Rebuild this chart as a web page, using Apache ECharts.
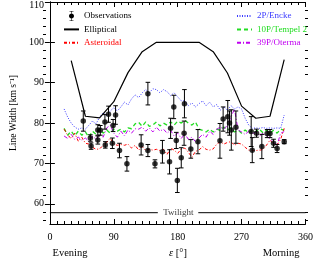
<!DOCTYPE html>
<html><head><meta charset="utf-8">
<script src="https://cdn.jsdelivr.net/npm/echarts@6/dist/echarts.min.js"></script>
<style>html,body{margin:0;padding:0;background:#fff}#c{width:316px;height:269px}</style>
</head><body><div id="c"></div>
<script>
// ---- data ----
const obsEps = [47,57,58,67.5,67.5,71,77.5,78,82.5,88,89,92.5,98,108.5,128.5,138,138,148,158.5,168.5,170,174.5,178,179.5,185,189,189.5,198.5,208.5,239.5,244,250.5,253,255.5,262,283.5,285,291,298.5,306,310,315,320,330];
const obsVal = [80.5,76.3,74.3,78.3,75.8,78.2,80.3,74.6,82.2,75.0,79.4,82.0,73.2,69.9,74.6,87.3,73.2,69.9,72.9,70.4,78.7,84.0,75.7,65.8,71.4,77.5,84.8,73.6,75.4,75.6,81.0,81.6,80.0,78.3,79.0,77.9,73.3,77.5,74.2,77.4,77.4,75.0,73.7,75.4];
const obsErr = [2.5,0.8,0.8,1.3,1.0,1.2,1.8,0.8,2.0,1.3,1.5,2.3,1.8,1.8,2.5,2.8,1.5,1.0,2.8,3.0,2.5,2.9,2.0,3.0,2.5,3.0,3.5,2.3,3.0,4.3,3.0,4.0,3.0,5.0,4.0,3.7,3.1,1.0,3.0,1.0,1.0,1.0,1.0,0.5];

const ellEps = [30,50,70,90,110,130,150,170,190,210,230,250,270,290,310,330];
const ellVal = [95.5,81.7,81.3,85.3,92.5,97.7,100,100,100,100,97.7,92.4,84.2,81.2,81.7,95.7];

const modelEps = [20,25,30,35,40,45,50,55,60,65,70,75,80,85,90,95,100,105,110,115,120,125,130,135,140,145,150,155,160,165,170,175,180,185,190,195,200,205,210,215,220,225,230,235,240,245,250,255,260,265,270,275,280,285,290,295,300,305,310,315,320,325,330];
const enckeVal = [83.5,81.5,80,79,78.5,78.8,78.5,79.5,80.5,79.8,81.5,82.5,81.8,83,83.8,83,84,85.2,84.5,86,87,86.3,87.5,88.3,87.5,88.5,88.3,87.5,88.3,87.8,86.8,87.5,86.5,85.5,85.5,84.3,85,84,84.8,85.5,84.3,85.2,84,84.6,83.2,84,83.2,84.3,83.5,84,83.5,81.2,79.5,78.7,78.8,78.7,78.9,78.7,78.8,78.7,78.8,78.7,82];
const tempelVal = [78.7,77,78,76.8,78,77,77.8,76.5,78,77.2,78.5,77.5,78.3,77.5,78.5,78,78.5,77.8,78.8,78.6,79.8,80.2,79.2,80.3,79.2,79.5,80.3,79.3,80,79.5,80.3,79.5,80.5,80,80.7,80,79.5,80.3,78.5,78.2,77.8,78.5,77.8,78.5,78.2,79,78.3,78.8,77.8,78.3,77.5,78.3,77.5,78.3,77.8,78.5,77.6,78.3,77.5,78.2,77.5,78.5,78.2];
const otermaVal = [76.8,76.2,77.2,76,76.5,75.8,76.3,75.5,76.8,76,77.2,76.5,78.8,79.5,77.5,76.5,78,76.8,78.3,77.5,78.6,78.5,79,78,78.8,77.8,79,78,78.5,77.5,78.2,76.8,77.5,76.2,77.3,76,76.5,75.4,76.3,77.2,76.5,78,77.2,78.5,79,78.5,79.5,81.5,83.5,78.3,77.8,77.2,78,77.3,77.8,76.8,77.5,76.8,76.2,75.2,74.5,77.5,77.9];
const asteroidVal = [78.5,77,76.2,77.5,75.5,76.5,75,74.8,74,73.5,73.6,74.5,75.2,76.3,74.8,74.5,74.7,74.5,74.8,73.8,74.5,73.3,74.2,73.2,73.5,73.3,73.5,73.2,73.5,72.2,73.8,73.3,72.5,73.6,73.8,72.8,71.5,73,73.3,74.2,73.5,73.3,73.6,74.8,75.4,74.8,75.2,75.4,74.5,75,74.8,74,73.3,73.3,73.2,73.3,73.4,74.5,75.8,74.8,74.6,76,78.7];

const twilightLevel = 57.8;
const twilightSegEps = [0, 152, 209, 360];
const twilightLabelEps = 181;

const yMajorTicks = [60,70,80,90,100,110];
const yMinorTicks = [56,58,62,64,66,68,72,74,76,78,82,84,86,88,92,94,96,98,102,104,106,108];

// ---- chart ----
const FONT = 'Liberation Serif, Times New Roman, serif';
const zip = (a, b) => a.map((v, i) => [v, b[i]]);
const errData = obsEps.map((e, i) => [e, obsVal[i] - obsErr[i], obsVal[i] + obsErr[i]]);
const tw = [[twilightSegEps[0], twilightLevel], [twilightSegEps[1], twilightLevel], ['-', '-'], [twilightSegEps[2], twilightLevel], [twilightSegEps[3], twilightLevel]];

const gridRect = {left: 43, top: 2, width: 265, height: 222};
const blk = {color: '#000', width: 1};

const xCommon = {
  type: 'value', min: 0, max: 360, interval: 90,
  axisLine: {show: true, lineStyle: blk},
  axisTick: {show: true, inside: true, length: 5, lineStyle: blk},
  minorTick: {show: true, splitNumber: 9, length: 3, lineStyle: blk},
  splitLine: {show: false}
};

const COL = {encke: '#3c3cff', tempel: '#22dd22', oterma: '#c000f0', aster: '#ff0000'};

const obsIcon = 'path://M1,0H5V0.6H3.3V9.4H5V10H1V9.4H2.7V0.6H1Z M3,2.5C4.38,2.5 5.5,3.62 5.5,5C5.5,6.38 4.38,7.5 3,7.5C1.62,7.5 0.5,6.38 0.5,5C0.5,3.62 1.62,2.5 3,2.5Z';

const legendCommon = {
  orient: 'vertical', top: 6, itemWidth: 15, itemHeight: 10, itemGap: 3.4,
  selectedMode: false,
  itemStyle: {opacity: 0},
  textStyle: {fontFamily: FONT, fontSize: 9, color: '#000', lineHeight: 10}
};

const option = {
  animation: false,
  backgroundColor: '#fff',
  grid: [Object.assign({}, gridRect), Object.assign({}, gridRect)],
  xAxis: [
    Object.assign({}, xCommon, {gridIndex: 0, position: 'bottom',
      axisLabel: {show: true, color: '#000', fontFamily: FONT, fontSize: 10, margin: 8}}),
    Object.assign({}, xCommon, {gridIndex: 0, position: 'top', axisLabel: {show: false}}),
    {type: 'value', gridIndex: 1, min: 0, max: 360, show: false}
  ],
  yAxis: [
    {type: 'value', gridIndex: 0, min: 55, max: 110, position: 'left',
      name: 'Line Width [km s\u207B\u00B9]', nameLocation: 'middle', nameGap: 27,
      nameTextStyle: {fontFamily: FONT, fontSize: 9.5, color: '#000'},
      axisLine: {show: true, lineStyle: blk},
      axisTick: {show: true, inside: true, length: 5, lineStyle: blk, customValues: yMajorTicks},
      axisLabel: {show: true, customValues: yMajorTicks, color: '#000', fontFamily: FONT, fontSize: 10, margin: 6,
        formatter: v => (v === 110 ? '{t|110}' : String(v)),
        rich: {t: {padding: [6, 0, 0, 0], fontFamily: FONT, fontSize: 10, color: '#000'}}},
      splitLine: {show: false}},
    {type: 'value', gridIndex: 0, min: 55, max: 110, position: 'right',
      axisLine: {show: true, lineStyle: blk},
      axisTick: {show: true, inside: true, length: 5, lineStyle: blk, customValues: yMajorTicks},
      axisLabel: {show: false}, splitLine: {show: false}},
    {type: 'value', gridIndex: 1, min: 55, max: 110, position: 'left',
      axisLine: {show: false},
      axisTick: {show: true, inside: true, length: 3, lineStyle: blk, customValues: yMinorTicks},
      axisLabel: {show: false}, splitLine: {show: false}},
    {type: 'value', gridIndex: 1, min: 55, max: 110, position: 'right',
      axisLine: {show: false},
      axisTick: {show: true, inside: true, length: 3, lineStyle: blk, customValues: yMinorTicks},
      axisLabel: {show: false}, splitLine: {show: false}}
  ],
  legend: [
    Object.assign({}, legendCommon, {left: 58, data: [
      {name: 'Observations', icon: obsIcon, itemStyle: {opacity: 1, color: '#000'}},
      {name: 'Elliptical'},
      {name: 'Asteroidal', textStyle: {color: COL.aster}}
    ]}),
    Object.assign({}, legendCommon, {left: 231, data: [
      {name: '2P/Encke', textStyle: {color: COL.encke}},
      {name: '10P/Tempel 2', textStyle: {color: COL.tempel}},
      {name: '39P/Oterma', textStyle: {color: COL.oterma}}
    ]})
  ],
  graphic: [
    {type: 'text', x: 70, y: 253, style: {text: 'Evening', fontFamily: FONT, fontSize: 10.5, fill: '#000', align: 'center', verticalAlign: 'middle'}},
    {type: 'text', x: 178, y: 253, style: {text: '{i|\u03B5} [\u00B0]', fontFamily: FONT, fontSize: 10.5, fill: '#000', align: 'center', verticalAlign: 'middle',
      rich: {i: {fontStyle: 'italic', fontFamily: FONT, fontSize: 10.5, fill: '#000'}}}},
    {type: 'text', x: 281, y: 253, style: {text: 'Morning', fontFamily: FONT, fontSize: 10.5, fill: '#000', align: 'center', verticalAlign: 'middle'}}
  ],
  series: [
    {name: 'Elliptical', type: 'line', xAxisIndex: 0, yAxisIndex: 0, data: zip(ellEps, ellVal),
      symbol: 'none', lineStyle: {color: '#000', width: 1.2}, itemStyle: {color: '#000'}, z: 3},
    {name: '2P/Encke', type: 'line', data: zip(modelEps, enckeVal), symbol: 'none',
      lineStyle: {color: COL.encke, width: 1, type: [1, 1.5]}, itemStyle: {color: COL.encke}, z: 2},
    {name: '10P/Tempel 2', type: 'line', data: zip(modelEps, tempelVal), symbol: 'none',
      lineStyle: {color: COL.tempel, width: 1.3, type: [4, 3]}, itemStyle: {color: COL.tempel}, z: 2},
    {name: '39P/Oterma', type: 'line', data: zip(modelEps, otermaVal), symbol: 'none',
      lineStyle: {color: COL.oterma, width: 1, type: [4, 2, 1, 2]}, itemStyle: {color: COL.oterma}, z: 2},
    {name: 'Asteroidal', type: 'line', data: zip(modelEps, asteroidVal), symbol: 'none',
      lineStyle: {color: COL.aster, width: 1, type: [3, 2, 1, 2]}, itemStyle: {color: COL.aster}, z: 2},
    {name: 'twilight', type: 'line', data: tw, symbol: 'none', connectNulls: false,
      lineStyle: {color: '#000', width: 1}, z: 2},
    {name: 'twilightLabel', type: 'scatter', data: [[twilightLabelEps, twilightLevel]], symbolSize: 0,
      label: {show: true, position: 'inside', formatter: 'Twilight', fontFamily: FONT, fontSize: 9, color: '#000'}, z: 2},
    {name: 'Observations', type: 'custom', data: errData, encode: {x: 0, y: [1, 2]},
      itemStyle: {color: '#000'}, z: 5,
      renderItem: function (params, api) {
        const x = api.value(0), lo = api.value(1), hi = api.value(2);
        const a = api.coord([x, lo]), b = api.coord([x, hi]);
        const hw = 2.3;
        const st = {stroke: '#000', lineWidth: 1, fill: null};
        return {type: 'group', children: [
          {type: 'line', shape: {x1: a[0], y1: a[1], x2: b[0], y2: b[1]}, style: st},
          {type: 'line', shape: {x1: a[0] - hw, y1: a[1], x2: a[0] + hw, y2: a[1]}, style: st},
          {type: 'line', shape: {x1: b[0] - hw, y1: b[1], x2: b[0] + hw, y2: b[1]}, style: st}
        ]};
      }},
    {name: 'Observations', type: 'scatter', data: zip(obsEps, obsVal), symbol: 'circle', symbolSize: 5.5,
      itemStyle: {color: '#000'}, z: 6}
  ]
};

const chart = echarts.init(document.getElementById('c'), null, {renderer: 'canvas'});
chart.setOption(option);
</script>
</body></html>
